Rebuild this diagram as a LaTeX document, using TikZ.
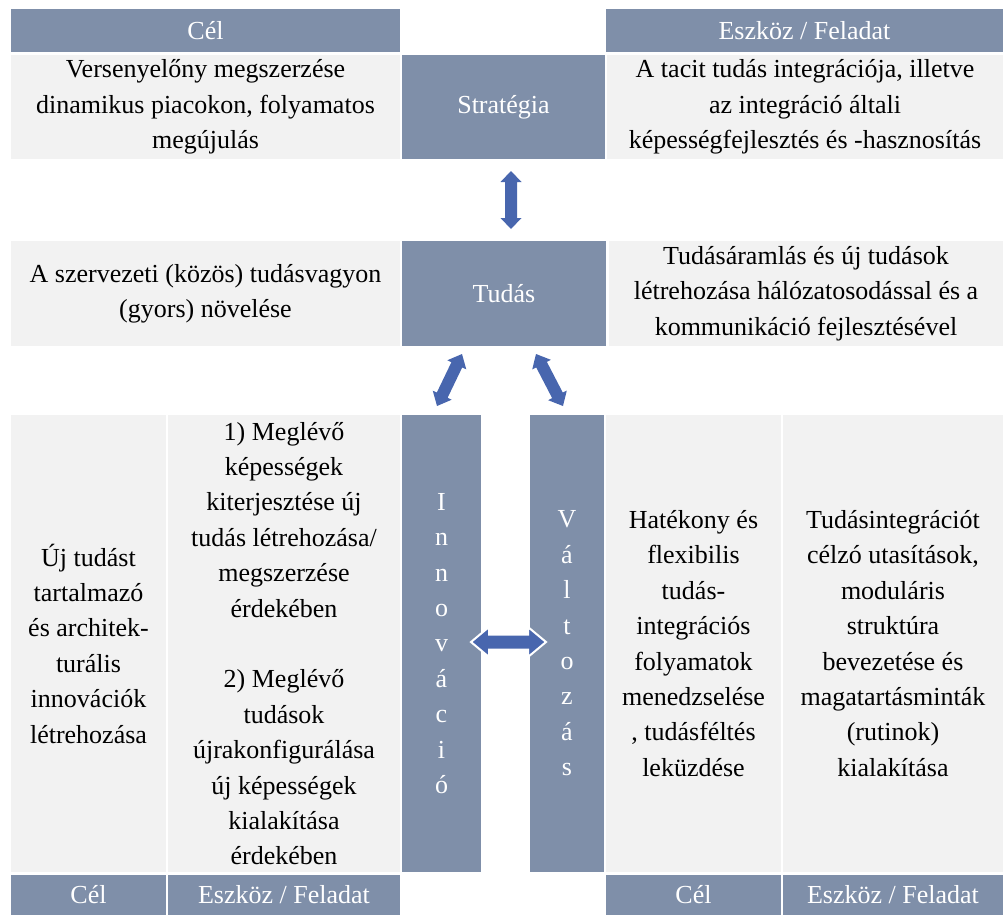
\documentclass[tikz,border=0pt]{standalone}
\usepackage{fontspec}
\setmainfont{Liberation Serif}
\usetikzlibrary{calc}

\definecolor{slate}{RGB}{127,143,169}
\definecolor{paper}{RGB}{242,242,242}
\definecolor{arrowblue}{RGB}{72,102,174}

\tikzset{
  cell/.style={inner sep=0pt, outer sep=0pt, align=center, draw=none,
    font=\fontsize{26}{35.4}\selectfont},
  headcell/.style={cell, fill=slate, text=white},
  textcell/.style={cell, fill=paper, text=black},
  blockarrow/.style={fill=arrowblue, draw=none},
}

% #1 style, #2 name, #3 x1, #4 y1, #5 x2, #6 y2, #7 text
\newcommand\cellbox[7]{%
  \node[#1, minimum width={(#5-#3)*1pt}, minimum height={(#6-#4)*1pt}]
    (#2) at ({(#3+#5)/2},{(#4+#6)/2}) {#7};}

% double block arrow between two named points
% #1 style, #2 first tip, #3 second tip, #4 head length, #5 head half width, #6 shaft half width
\newcommand\dblarrow[6]{%
  \path[#1] (#2)
    -- ($(#2)!#4!(#3)!#5!90:(#3)$)
    -- ($(#2)!#4!(#3)!#6!90:(#3)$)
    -- ($(#3)!#4!(#2)!#6!-90:(#2)$)
    -- ($(#3)!#4!(#2)!#5!-90:(#2)$)
    -- (#3)
    -- ($(#3)!#4!(#2)!#5!90:(#2)$)
    -- ($(#3)!#4!(#2)!#6!90:(#2)$)
    -- ($(#2)!#4!(#3)!#6!-90:(#3)$)
    -- ($(#2)!#4!(#3)!#5!-90:(#3)$)
    -- cycle;}

\begin{document}
\begin{tikzpicture}[x=1pt, y=-1pt]
\useasboundingbox (0,0) rectangle (1003,915);

% strategy row
\cellbox{headcell}{hdrGoalTop}{11}{9}{400}{52}{Cél}
\cellbox{headcell}{hdrTaskTop}{606}{9}{1003}{52}{Eszköz / Feladat}
\cellbox{textcell}{goalStrat}{11}{55}{400}{159}{Versenyelőny megszerzése\\ dinamikus piacokon, folyamatos\\ megújulás}
\cellbox{headcell}{strat}{402}{55}{605}{159}{Stratégia}
\cellbox{textcell}{taskStrat}{607}{55}{1003}{159}{A tacit tudás integrációja, illetve\\ az integráció általi\\ képességfejlesztés és -hasznosítás}

% knowledge row
\cellbox{textcell}{goalKnow}{11}{241}{400}{346}{A szervezeti (közös) tudásvagyon\\ (gyors) növelése}
\cellbox{headcell}{know}{402}{241}{606}{346}{Tudás}
\cellbox{textcell}{taskKnow}{609}{241}{1003}{346}{Tudásáramlás és új tudások\\ létrehozása hálózatosodással és a\\ kommunikáció fejlesztésével}

% innovation / change row
\cellbox{textcell}{goalInnov}{11}{415}{166}{872}{Új tudást\\ tartalmazó\\ és architek-\\ turális\\ innovációk\\ létrehozása}
\cellbox{textcell}{taskInnov}{168}{415}{400}{872}{1) Meglévő\\ képességek\\ kiterjesztése új\\ tudás létrehozása/\\ megszerzése\\ érdekében\\[35.4pt] 2) Meglévő\\ tudások\\ újrakonfigurálása\\ új képességek\\ kialakítása\\ érdekében}
\cellbox{headcell}{innov}{402}{415}{481}{872}{I\\ n\\ n\\ o\\ v\\ á\\ c\\ i\\ ó}
\cellbox{headcell}{change}{530}{415}{604}{872}{V\\ á\\ l\\ t\\ o\\ z\\ á\\ s}
\cellbox{textcell}{goalChange}{606}{415}{781}{872}{Hatékony és\\ flexibilis\\ tudás-\\ integrációs\\ folyamatok\\ menedzselése\\ , tudásféltés\\ leküzdése}
\cellbox{textcell}{taskChange}{783}{415}{1003}{872}{Tudásintegrációt\\ célzó utasítások,\\ moduláris\\ struktúra\\ bevezetése és\\ magatartásminták\\ (rutinok)\\ kialakítása}

% bottom headers
\cellbox{headcell}{hdrGoalL}{11}{875}{166}{915}{Cél}
\cellbox{headcell}{hdrTaskL}{168}{875}{400}{915}{Eszköz / Feladat}
\cellbox{headcell}{hdrGoalR}{606}{875}{781}{915}{Cél}
\cellbox{headcell}{hdrTaskR}{783}{875}{1003}{915}{Eszköz / Feladat}

% block arrows
\coordinate (vTop) at (511,171);
\coordinate (vBot) at (511,229);
\coordinate (lTop) at (462,354);
\coordinate (lBot) at (437,406);
\coordinate (rTop) at (536,354);
\coordinate (rBot) at (563,406);
\coordinate (hL) at (471,642);
\coordinate (hR) at (546,642);

\dblarrow{blockarrow}{vTop}{vBot}{11pt}{10.5pt}{6pt}
\dblarrow{blockarrow}{lTop}{lBot}{12pt}{10.5pt}{6pt}
\dblarrow{blockarrow}{rTop}{rBot}{12pt}{10.5pt}{6pt}
\dblarrow{blockarrow, draw=white, line width=2pt, line join=miter}{hL}{hR}{18pt}{15pt}{7.5pt}
\end{tikzpicture}
\end{document}
